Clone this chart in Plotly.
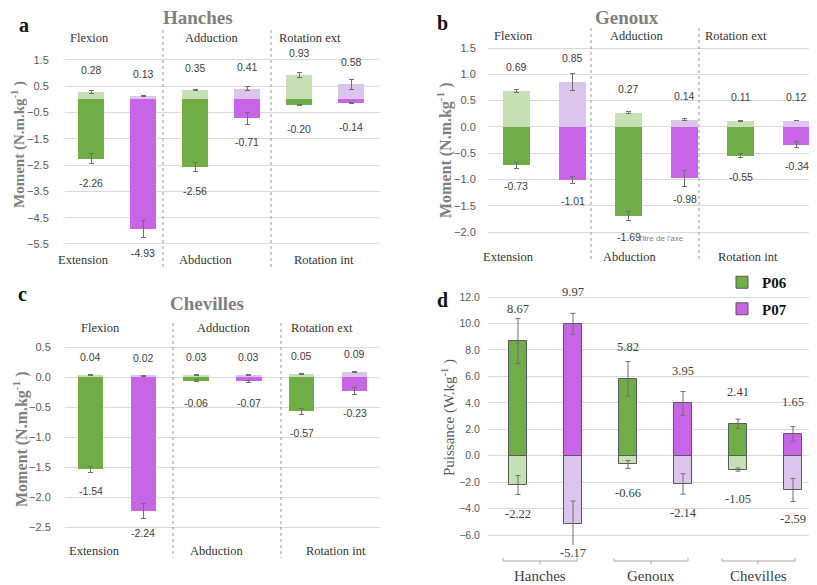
import plotly.graph_objects as go
import numpy as np

W, H = 817, 585
OFF = 8  # page body margin offset

# ---------------- data ----------------
mov_top = ["Flexion", "Adduction", "Rotation ext"]
mov_bottom = ["Extension", "Abduction", "Rotation int"]
joints = ["Hanches", "Genoux", "Chevilles"]

# Hanches moments (N.m/kg)
hanches_p06_pos = [0.28, 0.35, 0.93]
hanches_p06_neg = [-2.26, -2.56, -0.20]
hanches_p07_pos = [0.13, 0.41, 0.58]
hanches_p07_neg = [-4.93, -0.71, -0.14]
hanches_p06_pos_err = [0.04, 0.03, 0.09]
hanches_p06_neg_err = [0.19, 0.17, 0.02]
hanches_p07_pos_err = [0.02, 0.09, 0.19]
hanches_p07_neg_err = [0.32, 0.23, 0.02]

# Genoux moments
genoux_p06_pos = [0.69, 0.27, 0.11]
genoux_p06_neg = [-0.73, -1.69, -0.55]
genoux_p07_pos = [0.85, 0.14, 0.12]
genoux_p07_neg = [-1.01, -0.98, -0.34]
genoux_p06_pos_err = [0.03, 0.02, 0.01]
genoux_p06_neg_err = [0.06, 0.085, 0.04]
genoux_p07_pos_err = [0.16, 0.02, 0.005]
genoux_p07_neg_err = [0.07, 0.15, 0.06]

# Chevilles moments
chevilles_p06_pos = [0.04, 0.03, 0.05]
chevilles_p06_neg = [-1.54, -0.06, -0.57]
chevilles_p07_pos = [0.02, 0.03, 0.09]
chevilles_p07_neg = [-2.24, -0.07, -0.23]
chevilles_p06_pos_err = [0.01, 0.01, 0.01]
chevilles_p06_neg_err = [0.05, 0.02, 0.05]
chevilles_p07_pos_err = [0.01, 0.01, 0.01]
chevilles_p07_neg_err = [0.125, 0.02, 0.06]

# Puissance (W/kg)
puis_p06_pos = [8.67, 5.82, 2.41]
puis_p06_neg = [-2.22, -0.66, -1.05]
puis_p07_pos = [9.97, 3.95, 1.65]
puis_p07_neg = [-5.17, -2.14, -2.59]
puis_p06_pos_err = [1.7, 1.3, 0.35]
puis_p06_neg_err = [0.72, 0.3, 0.12]
puis_p07_pos_err = [0.8, 0.9, 0.55]
puis_p07_neg_err = [1.74, 0.77, 0.87]

# ---------------- style ----------------
GREEN = "#70AD47"
LGREEN = "#C5E0B4"
PURPLE = "#C864E6"
LPURPLE = "#DCC5EC"
ERRC = "#6f6f6f"
GRID = "#D9D9D9"
SERIF = "Liberation Serif"
SANS = "Liberation Sans"

FW, FH = W - OFF, H - OFF


def fx(px):
    return (px - OFF) / FW


def fy(py):
    return 1 - (py - OFF) / FH


x_p06 = np.arange(3) * 2
x_p07 = np.arange(3) * 2 + 1

# panel geometry (screen pixels of the reference)
panels = {
    "a": dict(c0=91, step=52, xd=(65, 380), zero=99.4, scale=26.29, yd=(50, 250), bw=0.5, dtick=1, tick0=0.5,
              standoff=13),
    "b": dict(c0=516.5, step=56, xd=(488, 815), zero=126.9, scale=52.57, yd=(40, 240), bw=0.48, dtick=0.5, tick0=0,
              standoff=9),
    "c": dict(c0=90.5, step=52.8, xd=(65, 380), zero=377, scale=60, yd=(337, 537), bw=0.48, dtick=0.5, tick0=0,
              standoff=11),
    "d": dict(c0=518, step=55, xd=(488, 817), zero=455.7, scale=13.22, yd=(290, 545), bw=0.33, dtick=2, tick0=0,
              standoff=5),
}
axis_ids = {"a": "", "b": "2", "c": "3", "d": "4"}

fig = go.Figure()
annotations = []
shapes = []


def add_label(text, px, py, size, family, color, bold=False, angle=0, xanchor="center"):
    annotations.append(dict(
        text=text, x=fx(px), y=fy(py), xref="paper", yref="paper", showarrow=False,
        xanchor=xanchor, yanchor="middle", textangle=angle,
        font=dict(size=size, family=family, color=color, weight="bold" if bold else "normal")))


def moment_panel(key, p06_pos, p06_neg, p07_pos, p07_neg, e06p, e06n, e07p, e07n, pos_shift, neg_shift):
    aid = axis_ids[key]
    bw = panels[key]["bw"]
    xa, ya = "x" + aid, "y" + aid
    series = [
        (x_p06, p06_neg, e06n, GREEN, "P06"),
        (x_p06, p06_pos, e06p, LGREEN, "P06"),
        (x_p07, p07_neg, e07n, PURPLE, "P07"),
        (x_p07, p07_pos, e07p, LPURPLE, "P07"),
    ]
    for xs, vals, errs, col, name in series:
        fig.add_trace(go.Bar(
            x=xs, y=vals, width=bw, marker=dict(color=col, line=dict(width=0)), name=name,
            showlegend=False, xaxis=xa, yaxis=ya,
            error_y=dict(type="data", array=errs, color=ERRC, thickness=1, width=2.5)))
        for xv, v in zip(xs, vals):
            annotations.append(dict(
                text=f"{v:.2f}", x=xv, y=v, xref=xa, yref=ya, showarrow=False,
                yshift=pos_shift if v > 0 else -neg_shift,
                font=dict(size=10.5, family=SANS, color="#404040")))


moment_panel("a", hanches_p06_pos, hanches_p06_neg, hanches_p07_pos, hanches_p07_neg,
             hanches_p06_pos_err, hanches_p06_neg_err, hanches_p07_pos_err, hanches_p07_neg_err, 22, 24)
moment_panel("b", genoux_p06_pos, genoux_p06_neg, genoux_p07_pos, genoux_p07_neg,
             genoux_p06_pos_err, genoux_p06_neg_err, genoux_p07_pos_err, genoux_p07_neg_err, 24, 21)
moment_panel("c", chevilles_p06_pos, chevilles_p06_neg, chevilles_p07_pos, chevilles_p07_neg,
             chevilles_p06_pos_err, chevilles_p06_neg_err, chevilles_p07_pos_err, chevilles_p07_neg_err, 18, 22)

# panel d: power
series_d = [
    (x_p06, puis_p06_pos, puis_p06_pos_err, GREEN, "P06", True),
    (x_p06, puis_p06_neg, puis_p06_neg_err, LGREEN, "P06", False),
    (x_p07, puis_p07_pos, puis_p07_pos_err, PURPLE, "P07", True),
    (x_p07, puis_p07_neg, puis_p07_neg_err, LPURPLE, "P07", False),
]
for xs, vals, errs, col, name, leg in series_d:
    fig.add_trace(go.Bar(
        x=xs, y=vals, width=panels["d"]["bw"], name=name, legendgroup=name, showlegend=leg,
        marker=dict(color=col, line=dict(width=1, color="#595959")), xaxis="x4", yaxis="y4",
        error_y=dict(type="data", array=errs, color=ERRC, thickness=1, width=2.5)))
    for xv, v in zip(xs, vals):
        annotations.append(dict(
            text=f"{v:.2f}", x=xv, y=v, xref="x4", yref="y4", showarrow=False,
            yshift=32 if v > 0 else -29,
            font=dict(size=12.5, family=SERIF, color="#404040")))

# axes
layout_axes = {}
for key, p in panels.items():
    aid = axis_ids[key]
    xr = [(p["xd"][0] - p["c0"]) / p["step"], (p["xd"][1] - p["c0"]) / p["step"]]
    yr = [(p["zero"] - p["yd"][1]) / p["scale"], (p["zero"] - p["yd"][0]) / p["scale"]]
    layout_axes["xaxis" + aid] = dict(
        domain=[fx(p["xd"][0]), min(1.0, fx(p["xd"][1]))], range=xr, showgrid=False, zeroline=False,
        showticklabels=False, showline=False, anchor="y" + aid, fixedrange=True)
    layout_axes["yaxis" + aid] = dict(
        domain=[fy(p["yd"][1]), fy(p["yd"][0])], range=yr, showgrid=True, gridcolor=GRID, gridwidth=1,
        zeroline=False, showline=False, tick0=p["tick0"], dtick=p["dtick"], tickformat=".1f",
        ticks="outside", ticklen=p["standoff"], tickcolor="rgba(0,0,0,0)",
        tickfont=dict(size=11 if key != "d" else 10.5, family=SANS, color="#595959"),
        anchor="x" + aid, fixedrange=True)

# titles, letters
add_label("Hanches", 198, 18, 19, SERIF, "#7f7f7f", bold=True)
add_label("Genoux", 627, 18, 19, SERIF, "#7f7f7f", bold=True)
add_label("Chevilles", 207, 303, 19, SERIF, "#7f7f7f", bold=True)
add_label("a", 24, 25, 20, SERIF, "#111111", bold=True)
add_label("b", 442, 23, 20, SERIF, "#111111", bold=True)
add_label("c", 23, 294, 20, SERIF, "#111111", bold=True)
add_label("d", 442, 300, 20, SERIF, "#111111", bold=True)

# y titles
ytitle = "Moment (N.m.kg<sup>-1</sup> )"
add_label(ytitle, 18, 145, 15, SERIF, "#7f7f7f", bold=True, angle=-90)
add_label(ytitle, 444, 150, 16, SERIF, "#7f7f7f", bold=True, angle=-90)
add_label(ytitle, 20, 439, 16, SERIF, "#7f7f7f", bold=True, angle=-90)
add_label("Puissance (W.kg<sup>-1</sup> )", 448, 418, 15, SERIF, "#595959", angle=-90)

# movement labels
CAT = "#333333"
top_pos = {"a": ([89, 212, 310], 38), "b": ([513, 637, 736], 36), "c": ([100, 224, 322], 328)}
bot_pos = {"a": ([83, 206, 324], 260), "b": ([508, 630, 748], 257), "c": ([94, 217, 336], 551)}
for key in ["a", "b", "c"]:
    xs, yy = top_pos[key]
    for t, xv in zip(mov_top, xs):
        add_label(t, xv, yy, 12.5, SERIF, CAT)
    xs, yy = bot_pos[key]
    for t, xv in zip(mov_bottom, xs):
        add_label(t, xv, yy, 12.5, SERIF, CAT)

add_label("Titre de l'axe", 661, 239, 8, SANS, "#7f7f7f")

# dashed separators
for (xp, y0, y1) in [(163, 30, 268), (271, 30, 268), (591, 28, 262), (699, 28, 262), (173, 323, 558), (281, 323, 558)]:
    shapes.append(dict(type="line", xref="paper", yref="paper", x0=fx(xp), x1=fx(xp), y0=fy(y0), y1=fy(y1),
                       line=dict(color="#9a9a9a", width=1, dash="3px,3px")))

# panel d joint axis brackets + labels
for name, (xl, xm, xr_) in zip(joints, [(503, 540, 577), (614, 651, 688), (722, 758, 795)]):
    shapes.append(dict(type="line", xref="paper", yref="paper", x0=fx(xl), x1=fx(xr_), y0=fy(561), y1=fy(561),
                       line=dict(color="#a6a6a6", width=1)))
    for xe in (xl, xr_):
        shapes.append(dict(type="line", xref="paper", yref="paper", x0=fx(xe), x1=fx(xe), y0=fy(558), y1=fy(561),
                           line=dict(color="#a6a6a6", width=1)))
    shapes.append(dict(type="line", xref="paper", yref="paper", x0=fx(xm), x1=fx(xm), y0=fy(561), y1=fy(564),
                       line=dict(color="#a6a6a6", width=1)))
    add_label(name, (xl + xr_) / 2, 576, 15, SERIF, "#404040")

fig.update_layout(
    width=FW, height=FH, margin=dict(l=0, r=0, t=0, b=0),
    paper_bgcolor="white", plot_bgcolor="white",
    barmode="relative", bargap=0,
    showlegend=True,
    legend=dict(x=fx(722), y=fy(266), xanchor="left", yanchor="top", tracegroupgap=4,
                font=dict(size=15, family=SERIF, color="#111111", weight="bold"),
                bgcolor="rgba(0,0,0,0)"),
    annotations=annotations, shapes=shapes,
    **layout_axes,
)

fig.write_html("out.html")
